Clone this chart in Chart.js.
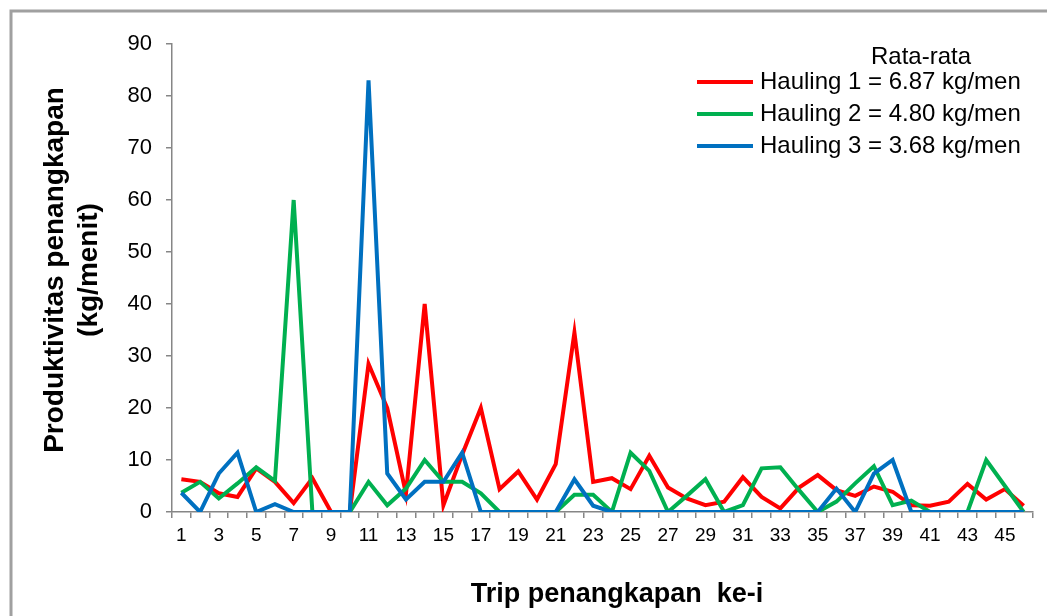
<!DOCTYPE html>
<html>
<head>
<meta charset="utf-8">
<title>Produktivitas penangkapan</title>
<script src="https://cdn.jsdelivr.net/npm/chart.js@4.4.1/dist/chart.umd.min.js"></script>
<style>
  html, body { margin: 0; padding: 0; background: #fff; }
  #wrap { width: 1047px; height: 616px; }
</style>
</head>
<body>
<div id="wrap"><canvas id="chart" width="1047" height="616"></canvas></div>
<script>
// trip number (x categories)
const trips = ["1","2","3","4","5","6","7","8","9","10","11","12","13","14","15","16",
  "17","18","19","20","21","22","23","24","25","26","27","28","29","30","31","32",
  "33","34","35","36","37","38","39","40","41","42","43","44","45","46"];

// productivity per hauling (kg/menit)
const hauling1 = [6.3, 5.8, 3.6, 2.9, 8.4, 5.8, 1.7, 6.5, 0, 0,
  28.5, 20, 3.5, 40, 1.3, 11, 20, 4.4, 7.8, 2.4,
  9.2, 34.5, 5.8, 6.5, 4.4, 10.8, 4.7, 2.6, 1.3, 2.0,
  6.7, 2.9, 0.7, 4.7, 7.1, 4.2, 3.1, 4.9, 3.9, 1.3,
  1.2, 2.0, 5.4, 2.4, 4.4, 1.2];
const hauling2 = [3.7, 5.8, 2.6, 5.5, 8.6, 6.0, 60, 0, 0, 0,
  5.8, 1.3, 4.5, 10, 5.8, 5.8, 3.6, 0, 0, 0,
  0, 3.3, 3.3, 0, 11.4, 7.9, 0, 3.1, 6.3, 0,
  1.3, 8.4, 8.6, 4.2, 0, 2.0, 5.5, 8.8, 1.3, 2.2,
  0, 0, 0, 10, 5.0, 0];
const hauling3 = [3.7, 0, 7.4, 11.4, 0, 1.5, 0, 0, 0, 0,
  83, 7.4, 2.4, 5.8, 5.8, 11.4, 0, 0, 0, 0,
  0, 6.3, 1.2, 0, 0, 0, 0, 0, 0, 0,
  0, 0, 0, 0, 0, 4.5, 0, 7.4, 10, 0,
  0, 0, 0, 0, 0, 0];

const seriesNames = ["Hauling 1", "Hauling 2", "Hauling 3"];
const rataRata = [6.87, 4.80, 3.68];
const seriesColors = ["#FF0000", "#00B050", "#0070C0"];

const yTicks = [0, 10, 20, 30, 40, 50, 60, 70, 80, 90];
const yTitle = ["Produktivitas penangkapan", "(kg/menit)"];
const xTitle = "Trip penangkapan  ke-i";
const legendTitle = "Rata-rata";

const FONT = "'Liberation Sans', Arial, sans-serif";
Chart.defaults.font.family = FONT;
Chart.defaults.color = "#000";

// frame, axis titles and the "Rata-rata" legend box
const extras = {
  id: "extras",
  beforeDraw(chart) {
    const ctx = chart.ctx;
    ctx.save();
    ctx.strokeStyle = "#a0a0a0";
    ctx.lineWidth = 3;
    ctx.beginPath();
    ctx.moveTo(11, 616);
    ctx.lineTo(11, 11);
    ctx.lineTo(1047, 11);
    ctx.stroke();
    ctx.restore();
  },
  afterDraw(chart) {
    const ctx = chart.ctx;
    ctx.save();
    ctx.fillStyle = "#000";
    ctx.textAlign = "center";
    ctx.textBaseline = "middle";

    // y title, two rotated lines
    ctx.font = "bold 28px " + FONT;
    ctx.save();
    ctx.translate(55, 270);
    ctx.rotate(-Math.PI / 2);
    ctx.fillText(yTitle[0], 0, 0);
    ctx.fillText(yTitle[1], 0, 34);
    ctx.restore();

    // x title
    ctx.font = "bold 27px " + FONT;
    ctx.fillText(xTitle, 617, 595);

    // legend
    ctx.font = "24px " + FONT;
    ctx.fillText(legendTitle, 921, 57);
    ctx.textAlign = "left";
    chart.data.datasets.forEach((ds, i) => {
      const y = 82 + i * 32;
      ctx.strokeStyle = ds.borderColor;
      ctx.lineWidth = 4;
      ctx.beginPath();
      ctx.moveTo(697, y);
      ctx.lineTo(753, y);
      ctx.stroke();
      ctx.fillText(ds.label, 760, y);
      ctx.fillText("= " + rataRata[i].toFixed(2) + " kg/men", 868, y);
    });
    ctx.restore();
  }
};

const ctx = document.getElementById("chart").getContext("2d");
new Chart(ctx, {
  type: "line",
  data: {
    labels: trips,
    datasets: [hauling1, hauling2, hauling3].map((values, i) => ({
      label: seriesNames[i],
      data: values,
      borderColor: seriesColors[i],
      backgroundColor: seriesColors[i],
      borderWidth: 4,
      pointRadius: 0,
      tension: 0,
      fill: false,
      order: 2 - i,
    })),
  },
  options: {
    responsive: false,
    animation: false,
    layout: { padding: { top: 44, right: 14, left: 12, bottom: 0 } },
    plugins: {
      legend: { display: false },
      tooltip: { enabled: false },
    },
    scales: {
      x: {
        offset: true,
        grid: { offset: true, drawOnChartArea: false, tickLength: 6, color: "#868686", lineWidth: 1.5 },
        border: { color: "#868686", width: 1.5 },
        ticks: {
          autoSkip: false,
          maxRotation: 0,
          padding: 6,
          font: { size: 19 },
          callback: (v, i) => (i % 2 === 0 ? trips[i] : ""),
        },
        afterFit: (s) => { s.height = 104; },
      },
      y: {
        min: yTicks[0],
        max: yTicks[yTicks.length - 1],
        afterBuildTicks: (s) => { s.ticks = yTicks.map((v) => ({ value: v })); },
        grid: { drawOnChartArea: false, tickLength: 6, color: "#868686", lineWidth: 1.5 },
        border: { color: "#868686", width: 1.5 },
        ticks: { padding: 14, font: { size: 22 } },
        afterFit: (s) => { s.width = 160; },
      },
    },
  },
  plugins: [extras],
});
</script>
</body>
</html>
